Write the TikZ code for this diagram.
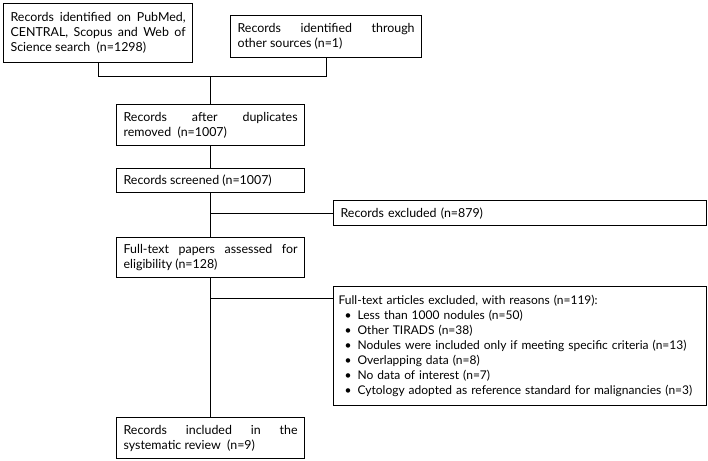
\documentclass[tikz,border=0pt]{standalone}
\usepackage{fontspec}
\setmainfont{Lato}
\usepackage{tikz}

\newcommand{\itm}[1]{\makebox[19pt][l]{\hspace{6pt}\textbullet}#1}

\begin{document}
\hyphenpenalty=10000
\exhyphenpenalty=10000
\begin{tikzpicture}[x=1pt, y=-1pt,
    box/.style={draw, line width=1.2pt, anchor=north west, inner xsep=7pt, inner ysep=3pt,
      align=justify, font=\fontsize{12.4}{15}\selectfont},
    link/.style={line width=1.2pt},
    ]
  \useasboundingbox (0,0) rectangle (708,460);

  \node[box, text width=175pt, minimum height=59pt] (srch) at (3,3)
    {Records identified on PubMed, CENTRAL, Scopus and Web of Science search~ (n=1298)};
  \node[box, text width=177pt, minimum height=42pt] (other) at (230,15)
    {Records identified through\linebreak other sources (n=1)};
  \node[box, text width=174pt, minimum height=41pt] (dup) at (116,104)
    {Records after duplicates removed~ (n=1007)};
  \node[box, text width=174pt, minimum height=24pt] (scr) at (116,168)
    {Records screened (n=1007)};
  \node[box, text width=359pt, minimum height=25pt, align=left] (excl1) at (333,200)
    {Records excluded (n=879)};
  \node[box, text width=363pt, inner xsep=5pt, minimum height=119pt, align=left,
      font=\fontsize{12}{15}\selectfont] (excl2) at (333,286)
    {Full-text articles excluded, with reasons (n=119):\\
     \itm{Less than 1000 nodules (n=50)}\\
     \itm{Other TIRADS (n=38)}\\
     \itm{Nodules were included only if meeting specific criteria (n=13)}\\
     \itm{Overlapping data (n=8)}\\
     \itm{No data of interest (n=7)}\\
     \itm{Cytology adopted as reference standard for malignancies (n=3)}};
  \node[box, text width=174pt, minimum height=40pt] (full) at (116,237)
    {Full-text papers assessed for eligibility (n=128)};
  \node[box, text width=174pt, minimum height=41pt] (incl) at (116,417)
    {Records included in the systematic review~ (n=9)};

  \coordinate (join) at (dup.north |- 0,76.5);
  \coordinate (b1) at (scr.south |- excl1.west);
  \coordinate (b2) at (full.south |- 0,298.5);

  \draw[link] (srch.south) |- (join) -| (other.south);
  \draw[link] (join) -- (dup.north);
  \draw[link] (dup) -- (scr);
  \draw[link] (scr) -- (full);
  \draw[link] (b1) -- (excl1.west);
  \draw[link] (full) -- (incl);
  \draw[link] (b2) -- (b2 -| excl2.west);
\end{tikzpicture}
\end{document}
